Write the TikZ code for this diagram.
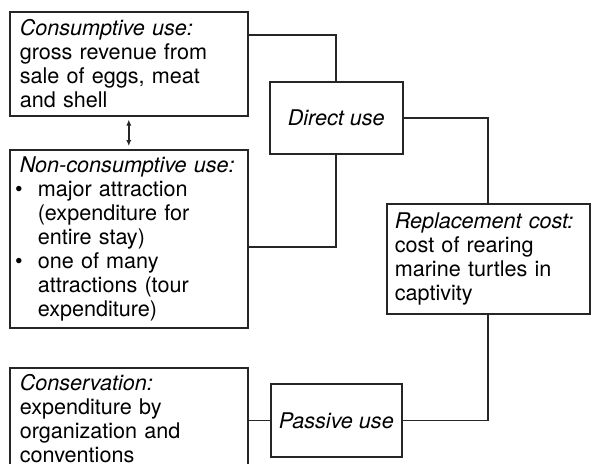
\documentclass[tikz,border=0pt]{standalone}
\usepackage{fontspec}
\setmainfont{TeX Gyre Heros}
\usetikzlibrary{arrows.meta}

% bullet item and hanging indent for list lines
\newcommand{\itm}{\hspace*{9pt}\llap{\textbullet\hspace{7.5pt}}}
\newcommand{\ind}{\hspace*{9pt}}

\begin{document}
\begin{tikzpicture}[x=0.5pt,y=-0.5pt,
  box/.style={draw=black!85, line width=0.8pt, anchor=north west, inner xsep=5pt, inner ysep=0pt, align=left, font=\fontsize{10.8pt}{12pt}\selectfont},
  link/.style={draw=black!85, line width=0.8pt}]

\useasboundingbox (0,0) rectangle (591,463);

% Left column: kinds of use
\node[box, text width=109pt, minimum height=52pt] (cons) at (9,11) {\textit{Consumptive use:}\\gross revenue from\\sale of eggs, meat\\and shell};
\node[box, text width=109pt, minimum height=89pt] (noncons) at (9,149) {\textit{Non-consumptive use:}\\\itm major attraction\\\ind(expenditure for\\\ind entire stay)\\\itm one of many\\\ind attractions (tour\\\ind expenditure)};
\node[box, text width=109pt, minimum height=51pt] (conserv) at (9,367) {\textit{Conservation:}\\expenditure by\\organization and\\conventions};

% Middle column: use values
\node[box, align=center, minimum width=66.5pt, minimum height=36pt, inner xsep=0pt] (direct) at (269,81) {\textit{Direct use}};
\node[box, align=center, minimum width=65.5pt, minimum height=36.5pt, inner xsep=0pt] (passive) at (270,383) {\textit{Passive use}};

% Right column
\node[box, text width=93.5pt, inner xsep=4pt, minimum height=55pt] (repl) at (386,203) {\textit{Replacement cost:}\\cost of rearing\\marine turtles in\\captivity};

% Connectors
\draw[link, {Latex[length=3pt,width=2.6pt]}-{Latex[length=3pt,width=2.6pt]}] ([yshift=-1.5pt]cons.south) -- ([yshift=1.5pt]noncons.north);
\draw[link] ([yshift=-12pt]cons.north east) -| (direct.north);
\draw[link] (direct.south) |- ([yshift=-4pt]noncons.east);
\draw[link] (direct.east) -| (repl.north);
\draw[link] (repl.south) |- (passive.east);
\draw[link] (conserv.east |- passive.west) -- (passive.west);

\end{tikzpicture}
\end{document}
